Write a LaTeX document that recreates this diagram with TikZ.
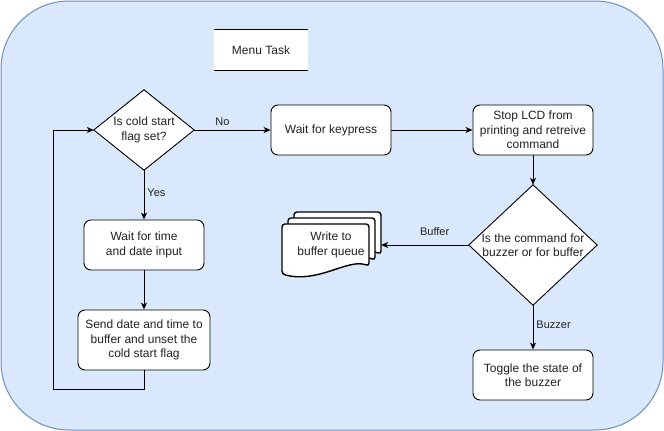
\documentclass[tikz,border=0pt]{standalone}
\usepackage{fontspec}
\setmainfont{Liberation Sans}
\usetikzlibrary{arrows.meta}
\definecolor{bgfill}{HTML}{DAE8FC}
\definecolor{bgline}{HTML}{6C8EBF}
\definecolor{txt}{HTML}{222222}
\begin{document}
\begin{tikzpicture}[x=1pt,y=-1pt,
  txtfont/.style={font=\fontsize{12}{14.5}\selectfont, text=txt, align=center},
  box/.style={txtfont, draw=black, fill=white, rounded corners=7pt, line width=0.9pt,
    minimum width=120pt, minimum height=50pt, inner sep=2pt},
  diabound/.style={minimum width=#1, inner sep=0pt, draw=none},
  diashape/.style={draw=black, fill=white, line width=0.9pt, line join=miter},
  docshape/.style={draw=black, fill=white, line width=1.4pt, rounded corners=3pt},
  arr/.style={-{Stealth[length=7pt,width=6pt,inset=2pt]}, line width=0.9pt, draw=black},
  lbl/.style={font=\fontsize{11}{13}\selectfont, text=txt, inner sep=1pt}]
\useasboundingbox (0,0) rectangle (664,431);
\draw[fill=bgfill, draw=bgline, line width=1pt, rounded corners=68pt] (1,1) rectangle (663,430);

% title
\node[txtfont, fill=white, minimum width=94pt, minimum height=40pt, inner sep=0pt] (menu) at (261,50) {Menu Task};
\draw[line width=1pt] (menu.north west) -- (menu.north east);
\draw[line width=1pt] (menu.south west) -- (menu.south east);

% decision 1
\node[diabound=100pt, minimum height=80pt] (d1) at (144,130) {};
\draw[diashape] (d1.north) -- (d1.east) -- (d1.south) -- (d1.west) -- cycle;
\node[txtfont] (d1t) at (d1) {Is cold start\\flag set?};

% decision 2
\node[diabound=128pt, minimum height=120pt] (d2) at (533,245) {};
\draw[diashape] (d2.north) -- (d2.east) -- (d2.south) -- (d2.west) -- cycle;
\node[txtfont] (d2t) at (d2) {Is the command for\\buzzer or for buffer};

% process boxes
\node[box] (wait) at (331,130) {Wait for keypress};
\node[box] (stop) at (533,130) {Stop LCD from\\printing and retreive\\command};
\node[box] (time) at (144,245) {Wait for time\\and date input};
\node[box, minimum width=132pt, minimum height=60pt] (send) at (144,340) {Send date and time to\\buffer and unset the\\cold start flag};
\node[box] (toggle) at (533,375) {Toggle the state of\\the buzzer};

% multi-document
\node[minimum width=99pt, minimum height=61pt, inner sep=0pt, draw=none] (stack) at (331.5,242.5) {};
\draw[docshape] (294,212) -- (381,212) -- (381,254)
  .. controls (360,246) and (330,272) .. (294,262) -- cycle;
\draw[docshape] (288,218) -- (375,218) -- (375,260)
  .. controls (354,252) and (324,278) .. (288,268) -- cycle;
\draw[docshape] (282,224) -- (369,224) -- (369,266)
  .. controls (348,258) and (318,284) .. (282,274) -- cycle;
\node[txtfont] (stackt) at (331,245) {Write to\\buffer queue};

% connectors
\draw[arr] (d1.east) -- (wait.west) node[lbl, pos=0.37, above=3pt] (lno) {No};
\draw[arr] (wait.east) -- (stop.west);
\draw[arr] (stop.south) -- (d2.north);
\draw[arr] (d2.west) -- (d2.west -| stack.east) node[lbl, pos=0.39, above=8pt] (lbuf) {Buffer};
\draw[arr] (d2.south) -- (toggle.north) node[lbl, pos=0.45, right=2pt] (lbuz) {Buzzer};
\draw[arr] (d1.south) -- (time.north) node[lbl, pos=0.45, right=2pt] (lyes) {Yes};
\draw[arr] (time.south) -- (send.north);
\coordinate (lb) at (53,389);
\draw[arr] (send.south) |- (lb) |- (d1.west);
\end{tikzpicture}
\end{document}
